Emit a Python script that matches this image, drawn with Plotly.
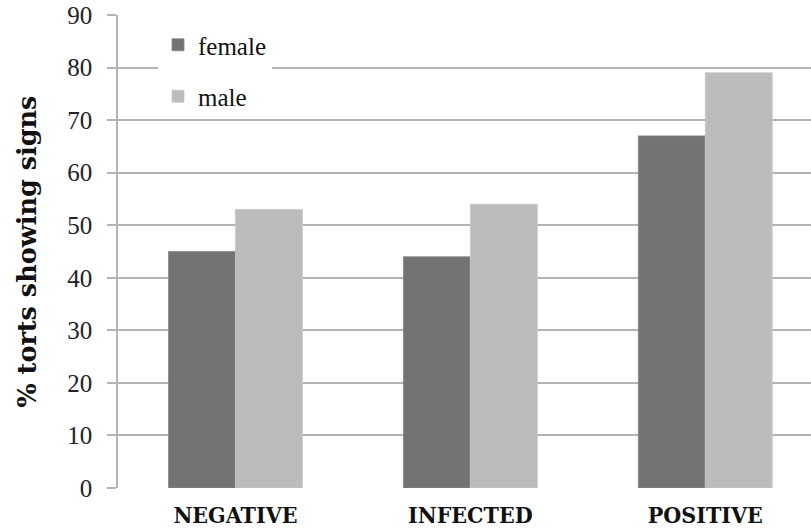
import plotly.graph_objects as go

categories = ["NEGATIVE", "INFECTED", "POSITIVE"]
female = [45, 44, 67]
male = [53, 54, 79]
y_ticks = [0, 10, 20, 30, 40, 50, 60, 70, 80, 90]

GRID = "#b4b4b4"
SERIF = "Liberation Serif, serif"

fig = go.Figure()
fig.add_trace(go.Bar(
    x=categories, y=female, name="female", legendgroup="f",
    marker=dict(color="#737373", line=dict(color="#858585", width=0.8)),
))
fig.add_trace(go.Bar(
    x=categories, y=male, name="male", legendgroup="m",
    marker=dict(color="#bcbcbc", line=dict(color="#c8c8c8", width=0.8)),
))

fig.update_layout(
    width=811, height=529,
    margin=dict(l=118, r=0, t=15, b=41),
    paper_bgcolor="white", plot_bgcolor="white",
    barmode="group", bargap=0.43, bargroupgap=0,
    showlegend=True,
    legend=dict(
        x=(158 - 118) / 693, y=(488 - 22) / 473, xanchor="left", yanchor="top",
        bgcolor="white", borderwidth=0,
        font=dict(family=SERIF, size=25, color="#111111"),
        traceorder="grouped", tracegroupgap=16,
    ),
    xaxis=dict(
        range=[-0.5, 2.45], showgrid=False, showline=False, ticks="",
        tickfont=dict(family="DejaVu Serif Condensed, DejaVu Serif, serif",
                      size=23, color="#111111", weight="bold"),
        ticklabelstandoff=11,
    ),
    yaxis=dict(
        range=[0, 90], tickvals=y_ticks,
        showgrid=True, gridcolor=GRID, gridwidth=1.6,
        showline=True, linecolor=GRID, linewidth=1.6,
        ticks="outside", ticklen=9, tickcolor=GRID, tickwidth=1.6,
        tickfont=dict(family=SERIF, size=25, color="#222222"),
        ticklabelstandoff=10, zeroline=False,
    ),
    annotations=[dict(
        text="% torts showing signs", textangle=-90,
        xref="paper", yref="paper", x=(26 - 118) / 693, y=0.5,
        xanchor="center", yanchor="middle", showarrow=False,
        font=dict(family="DejaVu Serif, serif", size=25.5, color="#111111", weight="bold"),
    )],
)

fig.write_html("out.html")
